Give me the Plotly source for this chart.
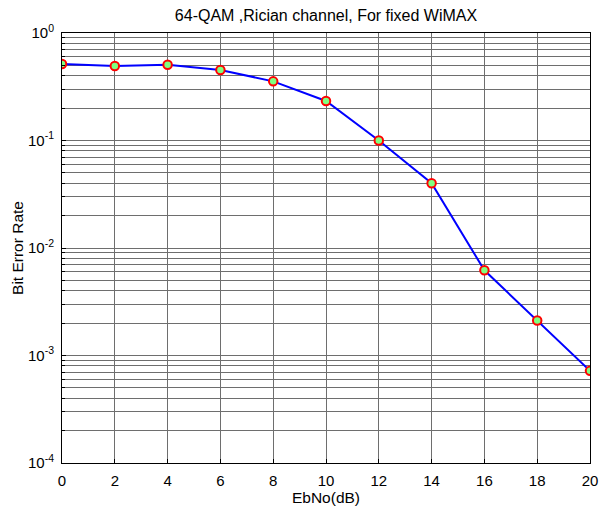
import plotly.graph_objects as go

ebno = [0, 2, 4, 6, 8, 10, 12, 14, 16, 18, 20]
ber = [0.515, 0.493, 0.507, 0.453, 0.355, 0.233, 0.100, 0.040, 0.0062, 0.00212, 0.00072]

decades = [-4, -3, -2, -1, 0]
major_vals = [10 ** d for d in decades]
major_text = [f"10<sup>{d}</sup>" for d in decades]
minor_vals = [m * 10 ** d for d in decades[:-1] for m in range(2, 10)]

xticks = list(range(0, 21, 2))

fig = go.Figure()
fig.add_trace(go.Scatter(
    x=ebno, y=ber, mode="lines+markers",
    line=dict(color="#0000ff", width=2),
    marker=dict(symbol="circle", size=8.5, color="#80ff80",
                line=dict(color="#ff0000", width=2)),
    showlegend=False,
))

grid = "rgb(110,110,110)"
fig.update_layout(
    width=601, height=512,
    margin=dict(l=62, r=11, t=33, b=49),
    paper_bgcolor="white", plot_bgcolor="white",
    font=dict(family="Liberation Sans, Arial, sans-serif", size=15, color="black"),
    title=dict(text="64-QAM ,Rician channel, For fixed WiMAX",
               x=(62 + 590) / 2 / 601, xanchor="center", y=1 - 15 / 512, yanchor="middle",
               font=dict(size=16)),
)
fig.update_xaxes(
    range=[0, 20], tickvals=xticks, ticktext=[str(v) for v in xticks],
    showgrid=True, gridcolor=grid, gridwidth=1,
    showline=True, linecolor="black", linewidth=1, mirror=True,
    ticks="inside", ticklen=4, tickcolor="black", zeroline=False,
    ticklabelstandoff=4, automargin=False, tickfont=dict(size=15),
    title=dict(text="EbNo(dB)", standoff=3, font=dict(size=15.5)),
)
fig.update_yaxes(
    type="log", range=[-4, 0], tickvals=major_vals, ticktext=major_text,
    showgrid=True, gridcolor=grid, gridwidth=1,
    minor=dict(tickmode="array", tickvals=minor_vals, showgrid=True,
               gridcolor=grid, gridwidth=1, ticks="inside", ticklen=3, tickcolor="black"),
    showline=True, linecolor="black", linewidth=1, mirror=True,
    ticks="inside", ticklen=4, tickcolor="black", zeroline=False,
    ticklabelstandoff=4, automargin=False, tickfont=dict(size=15),
    title=dict(text="Bit Error Rate", standoff=0, font=dict(size=15.5)),
)

fig.write_html("out.html")
